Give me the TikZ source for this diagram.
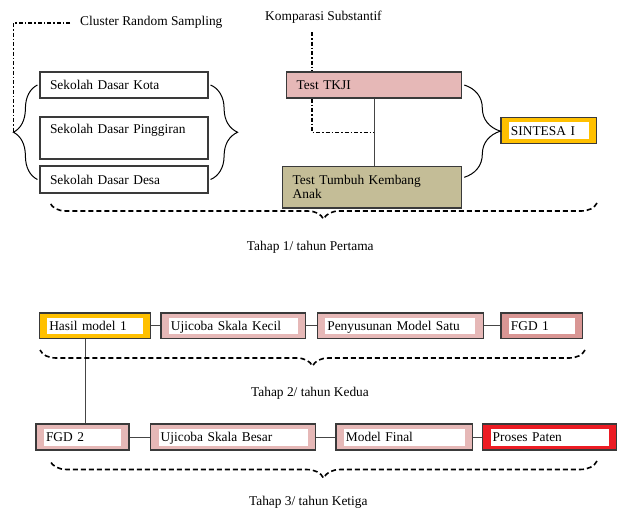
\documentclass[tikz,border=0pt]{standalone}
\usepackage{fontspec}
\setmainfont{Liberation Serif}
\usetikzlibrary{calc,decorations.pathreplacing,backgrounds}
\definecolor{pinkfill}{HTML}{E6B8B7}
\definecolor{rosefill}{HTML}{D99694}
\definecolor{olivefill}{HTML}{C4BD97}
\definecolor{goldfill}{HTML}{FFC000}
\definecolor{redfill}{HTML}{EC1C24}
\definecolor{boxline}{HTML}{3A3A3A}
\definecolor{linkgray}{HTML}{454545}

\begin{document}
\begin{tikzpicture}[x=1pt,y=-1pt,
  font=\fontsize{13.4}{14}\selectfont,
  box/.style={draw=boxline,line width=1.2pt,inner xsep=10pt,align=left},
  one line/.style={text height=9.5pt,text depth=0pt},
  inset/.style={path picture={\fill[white]
    ([shift={(8pt,4.5pt)}]path picture bounding box.south west) rectangle
    ([shift={(-8pt,-4.5pt)}]path picture bounding box.north east);}},
  link/.style={draw=linkgray,line width=1pt},
  sampling line/.style={line width=1.6pt,dash pattern=on 4pt off 2pt on 1.5pt off 2pt},
  group brace/.style={decorate,decoration={brace,amplitude=#1},line width=1pt},
  stage brace/.style={decorate,decoration={brace,amplitude=#1},line width=1.6pt,dash pattern=on 5pt off 3pt},
  plain text/.style={inner sep=0pt}]
  \useasboundingbox (0,0) rectangle (617,508);

  \node[plain text,anchor=base west] (crs) at (80,26) {Cluster Random Sampling};
  \node[plain text,anchor=base west] (komp) at (265,21) {Komparasi Substantif};

  \node[box,one line,text width=148pt,minimum height=26pt] (kota) at (124,85) {Sekolah Dasar Kota};
  \node[box,one line,text width=148pt,minimum height=42pt,text depth=19.5pt] (pinggir) at (124,138) {Sekolah Dasar Pinggiran};
  \node[box,one line,text width=148pt,minimum height=27pt] (desa) at (124,179.5) {Sekolah Dasar Desa};

  \node[box,one line,fill=pinkfill,text width=155pt,minimum height=26pt] (tkji) at (374.2,85) {Test TKJI};
  \node[box,fill=olivefill,text width=159pt,minimum height=41.3pt] (tumbuh) at (372.2,187.3) {Test Tumbuh Kembang\\Anak};
  \node[box,one line,inset,fill=goldfill,text width=75.7pt,minimum height=26pt] (sintesa) at (548.8,130.3) {SINTESA I};

  \node[box,one line,inset,fill=goldfill,text width=91.4pt,minimum height=25.6pt] (hasil) at (95,325.8) {Hasil model 1};
  \node[box,one line,inset,fill=pinkfill,text width=124.7pt,minimum height=25.6pt] (kecil) at (233.3,325.8) {Ujicoba Skala Kecil};
  \node[box,one line,inset,fill=pinkfill,text width=146pt,minimum height=25.6pt] (susun) at (400.3,325.8) {Penyusunan Model Satu};
  \node[box,one line,inset,fill=rosefill,text width=61.7pt,minimum height=25.6pt] (fgd1) at (541.8,325.8) {FGD 1};

  \node[box,one line,inset,fill=pinkfill,text width=73pt,minimum height=26pt] (fgd2) at (82.5,437) {FGD 2};
  \node[box,one line,inset,fill=pinkfill,text width=145pt,minimum height=26pt] (besar) at (233.2,437) {Ujicoba Skala Besar};
  \node[box,one line,inset,fill=pinkfill,text width=116.7pt,minimum height=26pt] (final) at (404.3,437) {Model Final};
  \node[box,one line,inset,fill=redfill,text width=113.8pt,minimum height=26pt] (paten) at (549.6,437) {Proses Paten};

  \node[plain text,anchor=base] (tahap1) at (310.3,250) {Tahap 1/ tahun Pertama};
  \node[plain text,anchor=base] (tahap2) at (310,396) {Tahap 2/ tahun Kedua};
  \node[plain text,anchor=base] (tahap3) at (308.3,505) {Tahap 3/ tahun Ketiga};

  \coordinate (lbtip) at ($(kota.west)!0.5!(desa.west)+(-26pt,0pt)$);
  \coordinate (mid) at ($(tkji.south)!0.5!(tkji.south |- tumbuh.north)$);

  \draw[group brace=24pt] ([xshift=-2pt]desa.west) -- ([xshift=-2pt]kota.west);
  \draw[group brace=27pt] ([xshift=2pt]kota.east) -- ([xshift=2pt]desa.east);
  \draw[group brace=36pt] ([xshift=2pt]tkji.east) -- ([shift={(2pt,10pt)}]tumbuh.east);

  \draw[sampling line] ([xshift=-10pt]crs.west) -| (lbtip);
  \begin{scope}[on background layer]
    \draw[sampling line] ([shift={(-11.5pt,-8pt)}]komp.south) |- (mid);
  \end{scope}
  \draw[link] (tkji.south) -- (tkji.south |- tumbuh.north);

  \draw[link] (hasil) -- (kecil);
  \draw[link] (kecil) -- (susun);
  \draw[link] (susun) -- (fgd1);
  \draw[link] ([xshift=-10pt]hasil.south) -- ([xshift=-10pt]hasil.south |- fgd2.north);
  \draw[link] (fgd2) -- (besar);
  \draw[link] (besar) -- (final);
  \draw[link] (final) -- (paten);

  \draw[stage brace=16pt] (597,203) -- (50,203);
  \draw[stage brace=16pt] (585,350) -- (40,350);
  \draw[stage brace=17pt] (597,461) -- (50,461);
\end{tikzpicture}
\end{document}
